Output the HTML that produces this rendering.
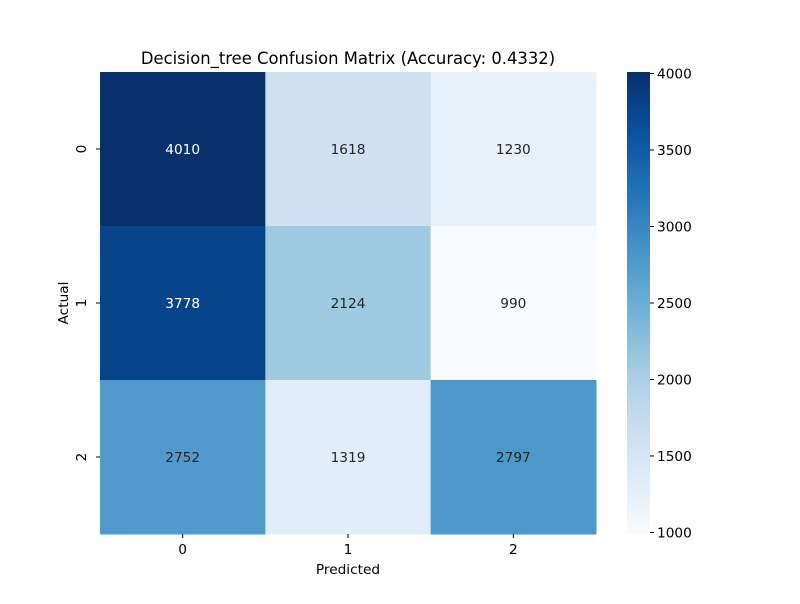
<!DOCTYPE html>
<html><head><meta charset="utf-8"><style>
body{margin:0;background:#fff;font-family:"DejaVu Sans","Liberation Sans",sans-serif}
svg text{font-family:"DejaVu Sans","Liberation Sans",sans-serif}
</style></head><body>
<svg id="chart" width="800" height="600" xmlns="http://www.w3.org/2000/svg">
<rect width="800" height="600" fill="#fff"/>
<text x="348" y="64" font-size="16.4" text-anchor="middle">Decision_tree Confusion Matrix (Accuracy: 0.4332)</text>
<g id="cells"></g>
<g id="axes"></g>
<defs><linearGradient id="cbg" x1="0" y1="1" x2="0" y2="0"></linearGradient></defs>
<rect x="627" y="72" width="23" height="462" fill="url(#cbg)"/>
<g id="cbticks"></g>
<text x="348" y="574" font-size="13.7" text-anchor="middle">Predicted</text>
<text x="0" y="0" font-size="13.7" text-anchor="middle" transform="translate(68,303) rotate(-90)">Actual</text>
</svg>
<script>
const classes=["0","1","2"];
const row0=[4010,1618,1230];
const row1=[3778,2124,990];
const row2=[2752,1319,2797];
const colorbarTicks=[1000,1500,2000,2500,3000,3500,4000];
const matrix=[row0,row1,row2];
const vmin=990,vmax=4010;
const stops=["#f7fbff","#deebf7","#c6dbef","#9ecae1","#6baed6","#4292c6","#2171b5","#08519c","#08306b"];
function hex(h){return [1,3,5].map(i=>parseInt(h.substr(i,2),16));}
function cmap(t){t=Math.max(0,Math.min(1,t));const p=t*8,i=Math.min(7,Math.floor(p)),f=p-i;const a=hex(stops[i]),b=hex(stops[i+1]);return a.map((v,k)=>Math.round(v+(b[k]-v)*f));}
const X0=100,X1=596,Y0=72,Y1=534;
const cw=(X1-X0)/classes.length,ch=(Y1-Y0)/classes.length;
function xs(i){return X0+i*cw;} function ys(i){return Y0+i*ch;}
function cy(v){return Y1-(v-vmin)/(vmax-vmin)*(Y1-Y0);}
const NS="http://www.w3.org/2000/svg";
function mk(tag,attrs,parent){const e=document.createElementNS(NS,tag);for(const k in attrs)e.setAttribute(k,attrs[k]);parent.appendChild(e);return e;}
const cells=document.getElementById('cells'),axes=document.getElementById('axes');
matrix.forEach((row,r)=>row.forEach((v,c)=>{
 const col=cmap((v-vmin)/(vmax-vmin));
 const rect=mk('rect',{x:xs(c),y:ys(r),width:cw+0.5,height:ch+0.5,fill:`rgb(${col})`},cells);
 
 
 const lum=(0.2126*col[0]+0.7152*col[1]+0.0722*col[2])/255;
 const t=mk('text',{x:xs(c)+cw/2,y:ys(r)+ch/2+5,'font-size':13.7,'text-anchor':'middle',fill:lum>0.408?'#262626':'#fff'},cells);
 t.textContent=v;
 
 
}));
classes.forEach((c,i)=>{
 const x=xs(i)+cw/2;
 mk('line',{x1:x,x2:x,y1:Y1,y2:Y1+4,stroke:'#000'},axes);
 const t=mk('text',{x:x,y:Y1+20,'font-size':13.7,'text-anchor':'middle'},axes);t.textContent=c;
 
 
 const y=ys(i)+ch/2;
 mk('line',{x1:X0-4,x2:X0,y1:y,y2:y,stroke:'#000'},axes);
 const u=mk('text',{x:0,y:0,'font-size':13.7,'text-anchor':'middle',transform:`translate(86,${y}) rotate(-90)`},axes);u.textContent=c;
 
 
});
const g=document.getElementById('cbg');
for(let i=0;i<=20;i++){const col=cmap(i/20);mk('stop',{offset:i/20,'stop-color':`rgb(${col})`},g);}
const cbt=document.getElementById('cbticks');
colorbarTicks.forEach(v=>{const y=cy(v);
 mk('line',{x1:650,x2:654,y1:y,y2:y,stroke:'#000'},cbt);
 const t=mk('text',{x:657,y:y+5,'font-size':13.7},cbt);t.textContent=v;
 
 
});
</script>
</body></html>
